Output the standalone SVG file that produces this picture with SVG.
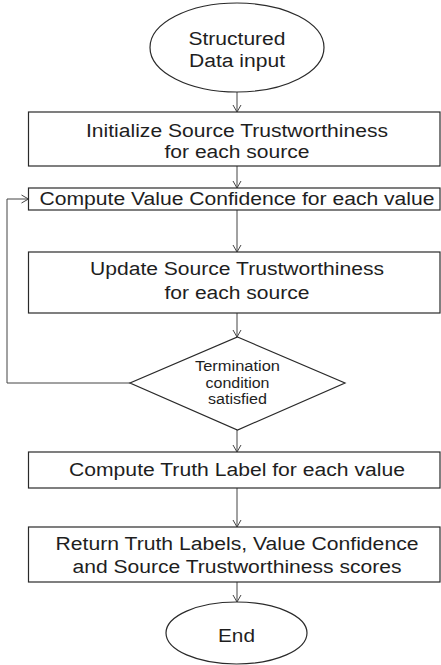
<svg xmlns="http://www.w3.org/2000/svg" width="441" height="665" viewBox="0 0 441 665">
<style>
.shape{fill:#fff;stroke:#2a2a2a;stroke-width:1.2}
.t{font-family:"Liberation Sans",Arial,sans-serif;font-size:18px;fill:#1e1e1e;text-anchor:middle}
.d{font-family:"Liberation Sans",Arial,sans-serif;font-size:14px;fill:#1e1e1e;text-anchor:middle}
.c{fill:none;stroke:#444;stroke-width:1}
</style>
<defs>
<marker id="arr" markerWidth="10" markerHeight="10" refX="8" refY="5" orient="auto" markerUnits="userSpaceOnUse">
<path d="M1,1 L8,5 L1,9" fill="none" stroke="#444" stroke-width="1"/>
</marker>
</defs>
<rect width="441" height="665" fill="#fff"/>
<g id="connectors">
<line class="c" x1="237" y1="92" x2="237" y2="112" marker-end="url(#arr)"/>
<line class="c" x1="237" y1="166" x2="237" y2="188" marker-end="url(#arr)"/>
<line class="c" x1="237" y1="210" x2="237" y2="252" marker-end="url(#arr)"/>
<line class="c" x1="237" y1="313" x2="237" y2="337" marker-end="url(#arr)"/>
<line class="c" x1="237" y1="430" x2="237" y2="452" marker-end="url(#arr)"/>
<line class="c" x1="237" y1="488" x2="237" y2="527" marker-end="url(#arr)"/>
<line class="c" x1="237" y1="582" x2="237" y2="602" marker-end="url(#arr)"/>
<polyline class="c" points="130,383 7,383 7,199 28.5,199" marker-end="url(#arr)"/>
</g>
<g id="start">
<ellipse class="shape" cx="237" cy="47.5" rx="87" ry="44.5"/>
<text class="t" x="237" y="45" textLength="97" lengthAdjust="spacingAndGlyphs">Structured</text>
<text class="t" x="237" y="67" textLength="96" lengthAdjust="spacingAndGlyphs">Data input</text>
</g>
<g id="init">
<rect class="shape" x="28.5" y="112" width="411.5" height="54"/>
<text class="t" x="237" y="137" textLength="302" lengthAdjust="spacingAndGlyphs">Initialize Source Trustworthiness</text>
<text class="t" x="237" y="158" textLength="145" lengthAdjust="spacingAndGlyphs">for each source</text>
</g>
<g id="confidence">
<rect class="shape" x="28.5" y="188" width="411.5" height="22"/>
<text class="t" x="237" y="205" textLength="395" lengthAdjust="spacingAndGlyphs">Compute Value Confidence for each value</text>
</g>
<g id="update">
<rect class="shape" x="28.5" y="252" width="411.5" height="61"/>
<text class="t" x="237" y="275" textLength="294" lengthAdjust="spacingAndGlyphs">Update Source Trustworthiness</text>
<text class="t" x="237" y="299" textLength="145" lengthAdjust="spacingAndGlyphs">for each source</text>
</g>
<g id="termination">
<polygon class="shape" points="237.5,337 345,383 237.5,430 130,383"/>
<text class="d" x="237.5" y="371" textLength="85" lengthAdjust="spacingAndGlyphs">Termination</text>
<text class="d" x="237.5" y="387.5" textLength="64" lengthAdjust="spacingAndGlyphs">condition</text>
<text class="d" x="237.5" y="404" textLength="59" lengthAdjust="spacingAndGlyphs">satisfied</text>
</g>
<g id="truth">
<rect class="shape" x="28.5" y="452" width="411.5" height="36"/>
<text class="t" x="237" y="476" textLength="336" lengthAdjust="spacingAndGlyphs">Compute Truth Label for each value</text>
</g>
<g id="return">
<rect class="shape" x="28.5" y="527" width="411.5" height="55"/>
<text class="t" x="237" y="550" textLength="363" lengthAdjust="spacingAndGlyphs">Return Truth Labels, Value Confidence</text>
<text class="t" x="237" y="573" textLength="329" lengthAdjust="spacingAndGlyphs">and Source Trustworthiness scores</text>
</g>
<g id="end">
<ellipse class="shape" cx="236.5" cy="633" rx="70.5" ry="31"/>
<text class="t" x="236.5" y="642" textLength="37" lengthAdjust="spacingAndGlyphs">End</text>
</g>
</svg>
